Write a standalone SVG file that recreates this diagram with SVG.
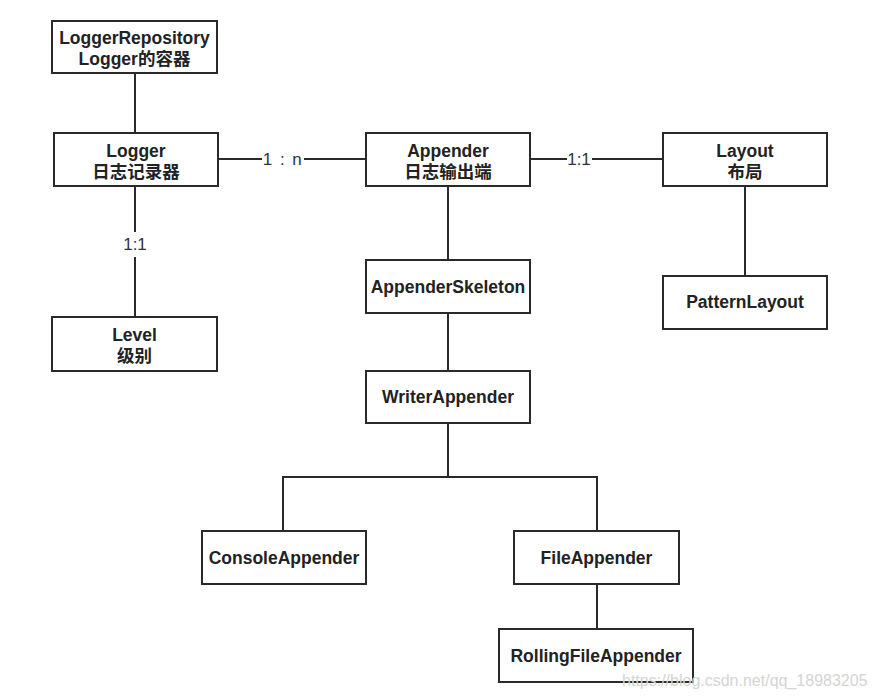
<svg xmlns="http://www.w3.org/2000/svg" width="877" height="699" viewBox="0 0 877 699">
<style>
.box{fill:#fff;stroke:#2a2a2a;stroke-width:2}
.t{font-family:"Liberation Sans","Noto Sans CJK SC",Arial,sans-serif;font-size:17.5px;font-weight:bold;fill:#222;text-anchor:middle}
.lbl{font-family:"Liberation Sans","Noto Sans CJK SC",Arial,sans-serif;font-size:17px;fill:#333;text-anchor:middle}
.c{stroke:#2a2a2a;stroke-width:2;fill:none}
.wm{font-family:"Liberation Sans",Arial,sans-serif;font-size:16px;fill:#d4d4d4}
</style>
<rect width="877" height="699" fill="#fff"/>
<g id="connectors">
<line class="c" x1="135" y1="73" x2="135" y2="133"/>
<line class="c" x1="218" y1="159" x2="262" y2="159"/>
<line class="c" x1="304" y1="159" x2="366" y2="159"/>
<line class="c" x1="135" y1="186" x2="135" y2="232"/>
<line class="c" x1="135" y1="257" x2="135" y2="317"/>
<line class="c" x1="530" y1="159" x2="567" y2="159"/>
<line class="c" x1="592" y1="159" x2="663" y2="159"/>
<line class="c" x1="745" y1="186" x2="745" y2="276"/>
<line class="c" x1="448" y1="186" x2="448" y2="260"/>
<line class="c" x1="448" y1="313" x2="448" y2="371"/>
<polyline class="c" points="448,423 448,477"/>
<polyline class="c" points="283,531 283,477 597,477 597,531"/>
<line class="c" x1="597" y1="584" x2="597" y2="629"/>
<text class="lbl" x="283" y="165" letter-spacing="1.5">1 : n</text>
<text class="lbl" x="579" y="165">1:1</text>
<text class="lbl" x="135" y="250">1:1</text>
</g>
<g id="LoggerRepository"><rect class="box" x="52" y="21" width="165" height="52"/><text class="t" x="134.5" y="44">LoggerRepository</text><text class="t" x="134.5" y="65">Logger的容器</text></g>
<g id="Logger"><rect class="box" x="54" y="133" width="164" height="53"/><text class="t" x="136" y="157">Logger</text><text class="t" x="136" y="178">日志记录器</text></g>
<g id="Appender"><rect class="box" x="366" y="133" width="164" height="53"/><text class="t" x="448" y="157">Appender</text><text class="t" x="448" y="178">日志输出端</text></g>
<g id="Layout"><rect class="box" x="663" y="133" width="164" height="53"/><text class="t" x="745" y="157">Layout</text><text class="t" x="745" y="178">布局</text></g>
<g id="PatternLayout"><rect class="box" x="663" y="276" width="164" height="53"/><text class="t" x="745" y="308">PatternLayout</text></g>
<g id="Level"><rect class="box" x="52" y="317" width="165" height="54"/><text class="t" x="134.5" y="341">Level</text><text class="t" x="134.5" y="362">级别</text></g>
<g id="AppenderSkeleton"><rect class="box" x="366" y="260" width="164" height="53"/><text class="t" x="448" y="293">AppenderSkeleton</text></g>
<g id="WriterAppender"><rect class="box" x="366" y="371" width="164" height="52"/><text class="t" x="448" y="403">WriterAppender</text></g>
<g id="ConsoleAppender"><rect class="box" x="202" y="531" width="164" height="53"/><text class="t" x="284" y="564">ConsoleAppender</text></g>
<g id="FileAppender"><rect class="box" x="514" y="531" width="165" height="53"/><text class="t" x="596.5" y="564">FileAppender</text></g>
<g id="RollingFileAppender"><rect class="box" x="499" y="629" width="194" height="53"/><text class="t" x="596" y="662">RollingFileAppender</text></g>
<text class="wm" x="622" y="686">https://blog.csdn.net/qq_18983205</text>
</svg>
